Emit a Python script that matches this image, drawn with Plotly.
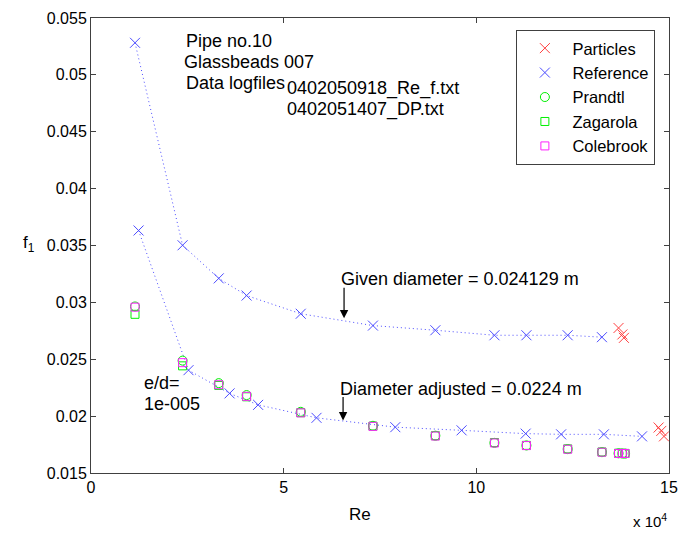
import plotly.graph_objects as go

# ---------------- data (Re in units of 1e4) ----------------
re_given = [1.142, 2.377, 3.315, 4.038, 5.443, 7.317, 8.937, 10.47, 11.30, 12.37, 13.26]
f_ref_given = [0.05282, 0.03502, 0.03211, 0.03060, 0.02900, 0.02796, 0.02755, 0.02711, 0.02711, 0.02711, 0.02694]

re_adj = [1.234, 2.530, 3.596, 4.337, 5.852, 7.897, 9.617, 11.28, 12.20, 13.31, 14.30]
f_ref_adj = [0.03632, 0.02404, 0.02200, 0.02099, 0.01985, 0.01903, 0.01875, 0.01846, 0.01840, 0.01840, 0.01822]

re_particles = [13.69, 13.79, 13.83, 14.73, 14.80, 14.87]
f_particles = [0.02775, 0.02718, 0.02688, 0.01900, 0.01870, 0.01822]

re_theory = [1.142, 2.377, 3.315, 4.038, 5.443, 7.317, 8.937, 10.47, 11.30, 12.37, 13.26, 13.69, 13.79, 13.86]
f_prandtl = [0.02964, 0.02488, 0.02290, 0.02185, 0.02038, 0.01915, 0.01828, 0.01765, 0.01742, 0.01710, 0.01683, 0.01673, 0.01671, 0.01670]
f_zagarola = [0.02895, 0.02442, 0.02270, 0.02170, 0.02030, 0.01912, 0.01828, 0.01768, 0.01743, 0.01712, 0.01685, 0.01674, 0.01673, 0.01672]
f_colebrook = [0.02958, 0.02470, 0.02276, 0.02174, 0.02029, 0.01910, 0.01825, 0.01764, 0.01741, 0.01709, 0.01683, 0.01672, 0.01672, 0.01672]

x_tickvals = [0, 5, 10, 15]
x_ticktext = ["0", "5", "10", "15"]
y_tickvals = [0.015, 0.02, 0.025, 0.03, 0.035, 0.04, 0.045, 0.05, 0.055]
y_ticktext = ["0.015", "0.02", "0.025", "0.03", "0.035", "0.04", "0.045", "0.05", "0.055"]

# ---------------- layout helpers ----------------
W, H = 688, 535
L, R, T, B = 91, 678, 14, 473
FONT = "Liberation Sans, Arial, sans-serif"


def px(p):
    return (p - L) / (R - L)


def py(p):
    return 1 - (p - T) / (B - T)


RED = "#ff4040"
BLUE = "#4c4cff"
GREEN = "#00f000"
MAGENTA = "#ff22ff"

fig = go.Figure()

# dotted connecting lines for the reference curves (no legend entry)
for xs, ys in [(re_given, f_ref_given), (re_adj, f_ref_adj)]:
    fig.add_trace(go.Scatter(
        x=xs, y=ys, mode="lines", showlegend=False, hoverinfo="skip",
        line=dict(color=BLUE, width=1, dash="1px,3px"),
    ))

fig.add_trace(go.Scatter(
    x=re_particles, y=f_particles, mode="markers", name="Particles",
    marker=dict(symbol="x-thin-open", size=10, line=dict(color=RED, width=1), color=RED),
))
fig.add_trace(go.Scatter(
    x=re_given, y=f_ref_given, mode="markers", name="Reference",
    legendgroup="ref",
    marker=dict(symbol="x-thin-open", size=10, line=dict(color=BLUE, width=1), color=BLUE),
))
fig.add_trace(go.Scatter(
    x=re_adj, y=f_ref_adj, mode="markers", name="Reference",
    legendgroup="ref", showlegend=False,
    marker=dict(symbol="x-thin-open", size=10, line=dict(color=BLUE, width=1), color=BLUE),
))
fig.add_trace(go.Scatter(
    x=re_theory, y=f_prandtl, mode="markers", name="Prandtl",
    marker=dict(symbol="circle-open", size=9, line=dict(color=GREEN, width=1), color=GREEN),
))
fig.add_trace(go.Scatter(
    x=re_theory, y=f_zagarola, mode="markers", name="Zagarola",
    marker=dict(symbol="square-open", size=8, line=dict(color=GREEN, width=1), color=GREEN),
))
fig.add_trace(go.Scatter(
    x=re_theory, y=f_colebrook, mode="markers", name="Colebrook",
    marker=dict(symbol="square-open", size=8, line=dict(color=MAGENTA, width=1), color=MAGENTA),
))

axis_common = dict(
    showline=True, linecolor="#404040", linewidth=1, mirror="ticks",
    ticks="inside", ticklen=5, tickcolor="#404040", showgrid=False, zeroline=False,
    tickfont=dict(family=FONT, size=16, color="black"),
)

fig.update_xaxes(range=[0, 15], tickvals=x_tickvals, ticktext=x_ticktext, **axis_common)
fig.update_yaxes(range=[0.015, 0.055], tickvals=y_tickvals, ticktext=y_ticktext, **axis_common)

texts = [
    ("Pipe no.10", 185, 37),
    ("Glassbeads 007", 183, 58),
    ("Data logfiles", 185, 80),
    ("0402050918_Re_f.txt", 288, 85),
    ("0402051407_DP.txt", 288, 106),
    ("Given diameter = 0.024129 m", 343, 277),
    ("Diameter adjusted = 0.0224 m", 342, 388),
    ("e/d=", 143, 382),
    ("1e-005", 143, 403),
]
annotations = []
for t, x0, y0 in texts:
    annotations.append(dict(
        text=t, x=px(x0), y=py(y0), xref="paper", yref="paper",
        xanchor="left", yanchor="middle", showarrow=False,
        font=dict(family=FONT, size=18, color="black"),
    ))

# arrows pointing at the two curves
for ax_px, tail_px, tip_px in [(348, 285, 317), (347, 395, 420)]:
    annotations.append(dict(
        x=px(ax_px), y=py(tip_px), xref="paper", yref="paper",
        ax=0, ay=tail_px - tip_px, text="", showarrow=True,
        arrowhead=2, arrowsize=1.4, arrowwidth=1.2, arrowcolor="black",
    ))

# axis labels
annotations.append(dict(
    text="Re", x=px(364), y=py(515), xref="paper", yref="paper",
    xanchor="center", yanchor="middle", showarrow=False,
    font=dict(family=FONT, size=17, color="black"),
))
annotations.append(dict(
    text="x 10<sup>4</sup>", x=px(678), y=py(521), xref="paper", yref="paper",
    xanchor="right", yanchor="middle", showarrow=False,
    font=dict(family=FONT, size=15, color="black"),
))
annotations.append(dict(
    text="f<sub>1</sub>", x=px(36), y=py(242), xref="paper", yref="paper",
    xanchor="right", yanchor="middle", showarrow=False,
    font=dict(family=FONT, size=17, color="black"),
))

fig.update_layout(
    width=W, height=H,
    margin=dict(l=L, r=W - R, t=T, b=H - B, pad=0),
    paper_bgcolor="white", plot_bgcolor="white",
    annotations=annotations,
    showlegend=True,
    legend=dict(
        x=px(523), y=py(26), xanchor="left", yanchor="top",
        bordercolor="#404040", borderwidth=1, bgcolor="white",
        font=dict(family=FONT, size=16.5, color="black"),
        itemwidth=45, tracegroupgap=0,
    ),
)

fig.write_html("out.html")
